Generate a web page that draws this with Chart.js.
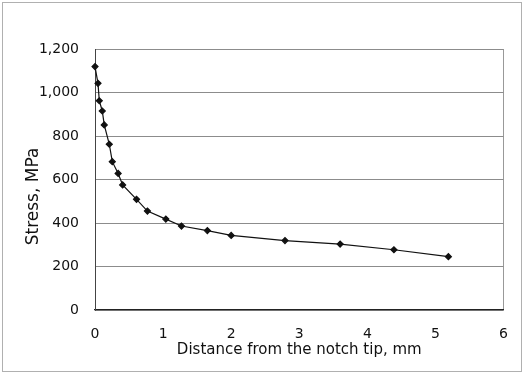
<!DOCTYPE html>
<html>
<head>
<meta charset="utf-8">
<script src="https://cdn.jsdelivr.net/npm/chart.js@4"></script>
<style>
  html, body { margin: 0; padding: 0; background: #fff; }
  #wrap { width: 524px; height: 373px; }
</style>
</head>
<body>
<div id="wrap"><canvas id="stressChart" width="524" height="373"></canvas></div>
<script>
// distance from notch tip (mm) vs stress (MPa)
const distanceMm = [0, 0.044, 0.063, 0.107, 0.136, 0.21, 0.254, 0.34, 0.406, 0.61, 0.77, 1.04, 1.27, 1.65, 2.0, 2.79, 3.6, 4.39, 5.19];
const stressMpa  = [1119, 1042, 962, 915, 851, 762, 682, 628, 575, 509, 455, 418, 386, 365, 343, 319, 303, 277, 245];
const xTicks = [0, 1, 2, 3, 4, 5, 6];
const yTicks = [0, 200, 400, 600, 800, 1000, 1200];
const yTitle = "Stress, MPa";

const points = distanceMm.map((x, i) => ({ x, y: stressMpa[i] }));
const fontFamily = "'DejaVu Sans', 'Liberation Sans', sans-serif";

// grey frame round the picture + y title (sits a bit below the axis middle in the original)
const framePlugin = {
  id: "frame",
  afterDraw(chart){
    const c = chart.ctx;
    const area = chart.chartArea;
    c.save();
    c.strokeStyle = "#b0b0b0";
    c.lineWidth = 1;
    c.strokeRect(2.5, 2.5, chart.width - 5, chart.height - 4);

    c.translate(34, (area.top + area.bottom) / 2 + 17);
    c.rotate(-Math.PI / 2);
    c.fillStyle = "#111";
    c.font = "17px " + fontFamily;
    c.textAlign = "center";
    c.textBaseline = "middle";
    c.fillText(yTitle, 0, 0);
    c.restore();
  }
};

new Chart(document.getElementById("stressChart"), {
  type: "scatter",
  data: {
    datasets: [{
      data: points,
      showLine: true,
      clip: false,
      borderColor: "#111",
      borderWidth: 1.2,
      backgroundColor: "#111",
      pointStyle: "rectRot",
      pointRadius: 3,
      tension: 0
    }]
  },
  options: {
    responsive: false,
    animation: false,
    layout: { padding: { left: 20, top: 49, right: 20, bottom: 10 } },
    plugins: { legend: { display: false }, tooltip: { enabled: false } },
    scales: {
      x: {
        type: "linear",
        min: 0, max: 6,
        afterBuildTicks: s => { s.ticks = xTicks.map(v => ({ value: v })); },
        afterFit: s => { s.height = 53; },
        grid: {
          drawTicks: false,
          color: ctx => ctx.tick && ctx.tick.value === 6 ? "#999" : "rgba(0,0,0,0)"
        },
        border: { color: "#222", width: 1.2 },
        ticks: { padding: 16, color: "#111", font: { family: fontFamily, size: 14 } },
        title: {
          display: true,
          text: "Distance from the notch tip, mm",
          color: "#111",
          padding: { top: 0 },
          font: { family: fontFamily, size: 15 }
        }
      },
      y: {
        min: 0, max: 1200,
        afterBuildTicks: s => { s.ticks = yTicks.map(v => ({ value: v })); },
        afterFit: s => { s.width = 75; },
        grid: { drawTicks: false, color: "#8c8c8c", lineWidth: 1 },
        border: { color: "#444", width: 1 },
        ticks: {
          padding: 16, color: "#111",
          font: { family: fontFamily, size: 14 },
          callback: v => v.toLocaleString("en-US")
        },
        title: { display: false }
      }
    }
  },
  plugins: [framePlugin]
});
</script>
</body>
</html>
